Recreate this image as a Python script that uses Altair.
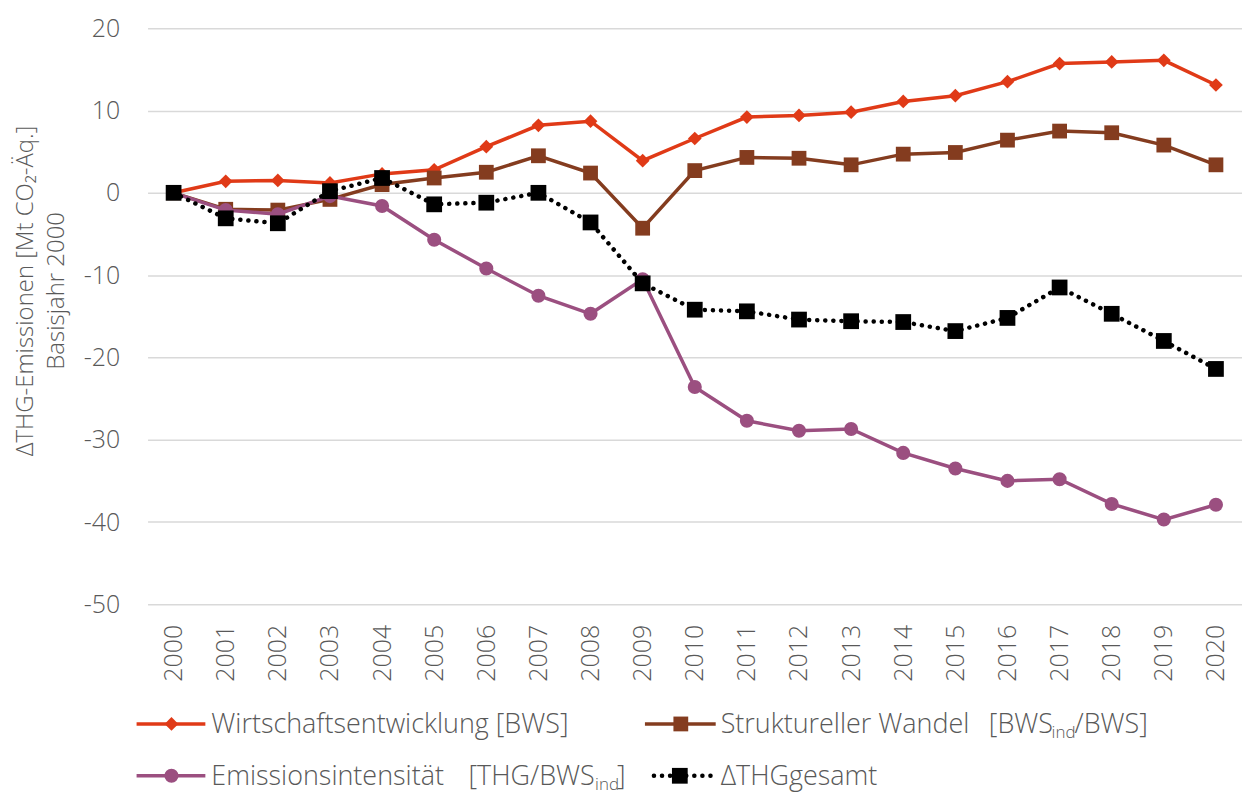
import altair as alt
import pandas as pd

years = [str(y) for y in range(2000, 2021)]
wirtschaft = [0, 1.4, 1.5, 1.2, 2.3, 2.8, 5.6, 8.2, 8.7, 3.9, 6.6, 9.2, 9.4, 9.8, 11.1, 11.8, 13.5, 15.7, 15.9, 16.1, 13.1]
strukturell = [0, -2.0, -2.1, -0.8, 1.0, 1.8, 2.5, 4.5, 2.4, -4.3, 2.7, 4.3, 4.2, 3.4, 4.7, 4.9, 6.4, 7.5, 7.3, 5.8, 3.4]
intensitaet = [0, -2.1, -2.6, -0.4, -1.6, -5.7, -9.2, -12.5, -14.7, -10.5, -23.6, -27.7, -28.9, -28.7, -31.6, -33.5, -35.0, -34.8, -37.8, -39.7, -37.9]
gesamt = [0, -3.1, -3.7, 0.2, 1.8, -1.4, -1.2, 0.0, -3.6, -11.0, -14.2, -14.4, -15.4, -15.6, -15.7, -16.8, -15.2, -11.5, -14.7, -18.0, -21.4]
y_ticks = [-50, -40, -30, -20, -10, 0, 10, 20]

RED = "#E03A17"
BROWN = "#843C1F"
PURPLE = "#9B4F80"
BLACK = "#000000"
GRAY = "#595959"
FONT = "Open Sans"

def frame(vals):
    return pd.DataFrame({"year": years, "value": vals})

x_enc = alt.X("year:O", scale=alt.Scale(type="point", padding=0.5),
              axis=alt.Axis(title=None, labelAngle=270, labelFontSize=25, labelColor=GRAY,
                            labelFont=FONT, labelFontWeight=300, labelPadding=20,
                            ticks=False, domain=False, grid=False))
y_enc = alt.Y("value:Q", scale=alt.Scale(domain=[-50, 20], nice=False, zero=False),
              axis=alt.Axis(values=y_ticks, labelExpr="'' + datum.value",
                            title=["ΔTHG-Emissionen  [Mt CO₂-Äq.]", "Basisjahr 2000"],
                            titleAngle=270, titleAlign="center", titleBaseline="bottom",
                            titleX=-110, titleY=263, titleFontSize=24, titleFont=FONT,
                            titleFontWeight=300, titleColor=GRAY, titleLineHeight=31,
                            labelFontSize=25, labelColor=GRAY, labelFont=FONT,
                            labelFontWeight=300, labelPadding=28, ticks=False, domain=False,
                            grid=True, gridColor="#D9D9D9", gridWidth=1.5))

def series(vals, color, shape, size, dash=None):
    base = alt.Chart(frame(vals))
    if dash:
        line = base.mark_line(color=color, strokeWidth=4.5, strokeDash=dash, strokeCap="round")
    else:
        line = base.mark_line(color=color, strokeWidth=3.5)
    line = line.encode(x=x_enc, y=y_enc)
    pts = base.mark_point(shape=shape, size=size, filled=True, color=color, opacity=1).encode(x=x_enc, y=y_enc)
    return [line, pts]

layers = []
layers += series(wirtschaft, RED, "diamond", 190)
layers += series(strukturell, BROWN, "square", 220)
layers += series(intensitaet, PURPLE, "circle", 200)
layers += series(gesamt, BLACK, "square", 250, dash=[0.1, 8])

one = pd.DataFrame({"a": [0]})

def leg_line(x1, x2, y, color, dash=None):
    kw = dict(color=color, strokeWidth=3.5)
    if dash:
        kw = dict(color=color, strokeWidth=4.5, strokeDash=dash, strokeCap="round")
    return alt.Chart(one).mark_rule(**kw).encode(x=alt.value(x1), x2=alt.value(x2), y=alt.value(y))

def leg_sym(x, y, color, shape, size):
    return alt.Chart(one).mark_point(shape=shape, size=size, filled=True, color=color, opacity=1).encode(
        x=alt.value(x), y=alt.value(y))

def leg_text(x, y, txt, size=27):
    return alt.Chart(one).mark_text(align="left", baseline="alphabetic", font=FONT, fontWeight=300,
                                    fontSize=size, color=GRAY).encode(
        x=alt.value(x), y=alt.value(y), text=alt.value(txt))

r1, r2 = 698, 750
b1, b2 = 707, 759
layers += [
    leg_line(-11, 58, r1, RED), leg_sym(24, r1, RED, "diamond", 190),
    leg_text(64, b1, "Wirtschaftsentwicklung [BWS]"),
    leg_line(499, 570, r1, BROWN), leg_sym(535, r1, BROWN, "square", 220),
    leg_text(575, b1, "Struktureller Wandel"),
    leg_text(844, b1, "[BWS"), leg_text(907, b1 + 5, "ind", 17), leg_text(930, b1, "/BWS]"),
    leg_line(-11, 58, r2, PURPLE), leg_sym(24, r2, PURPLE, "circle", 200),
    leg_text(64, b2, "Emissionsintensität"),
    leg_text(322, b2, "[THG/BWS"), leg_text(449, b2 + 5, "ind", 17), leg_text(471, b2, "]"),
    leg_line(508, 571, r2, BLACK, dash=[0.1, 8]), leg_sym(534, r2, BLACK, "square", 250),
    leg_text(575, b2, "ΔTHGgesamt"),
]

chart = alt.layer(*layers).properties(
    width=1098, height=578,
    autosize=alt.AutoSizeParams(type="none"),
    padding={"left": 140, "top": 19, "right": 0, "bottom": 189},
    background="white",
).configure_view(stroke=None)

chart.save("out.html", embed_options={"renderer": "svg", "actions": False})
